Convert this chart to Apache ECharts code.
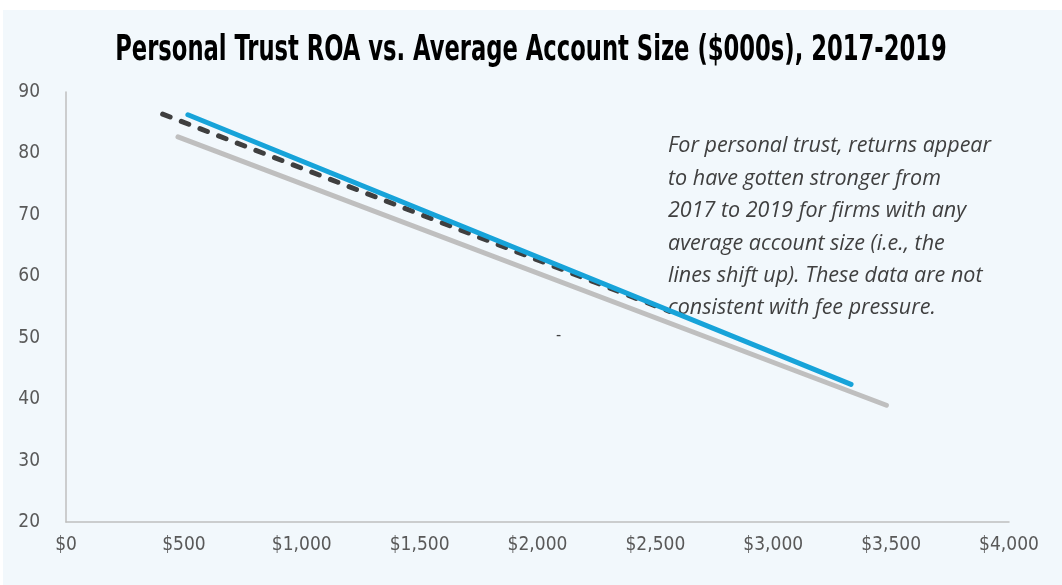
<!DOCTYPE html>
<html>
<head>
<meta charset="utf-8">
<script src="https://cdn.jsdelivr.net/npm/echarts@6/dist/echarts.min.js"></script>
<style>
  html, body { margin: 0; padding: 0; background: #ffffff; }
  #chart { width: 1062px; height: 585px; }
</style>
</head>
<body>
<div id="chart"></div>
<script>
// account size ($000s) and ROA endpoints of each fitted line
const year2017 = [[475, 82.7], [3480, 39.0]]
const year2018 = [[410, 86.4], [2560, 54.3]]
const year2019 = [[517, 86.3], [3330, 42.4]]

const yTicks = [20, 30, 40, 50, 60, 70, 80, 90]
const xTicks = [0, 500, 1000, 1500, 2000, 2500, 3000, 3500, 4000]

const titleText = 'Personal Trust ROA vs. Average Account Size ($000s), 2017-2019'

const note = [
  'For personal trust, returns appear',
  'to have gotten stronger from',
  '2017 to 2019 for firms with any',
  'average account size (i.e., the',
  'lines shift up). These data are not',
  'consistent with fee pressure.',
]

const labelFont = '"DejaVu Sans Condensed", "Open Sans", sans-serif'

const chart = echarts.init(document.getElementById('chart'))

chart.setOption({
  animation: false,
  backgroundColor: '#ffffff',
  graphic: [
    {
      type: 'rect',
      z: -10,
      silent: true,
      shape: { x: 3, y: 10, width: 1062, height: 580 },
      style: { fill: '#f2f8fc' },
    },
    {
      // title drawn narrow to mimic the condensed face of the original
      type: 'text',
      x: 531,
      y: 51,
      scaleX: 0.7,
      style: {
        text: titleText,
        align: 'center',
        verticalAlign: 'middle',
        fontFamily: labelFont,
        fontWeight: 'bold',
        fontSize: 36,
        fill: '#000000',
      },
    },
    {
      type: 'text',
      left: 668,
      top: 130,
      style: {
        text: note.join('\n'),
        fontFamily: '"Open Sans", "Noto Sans", sans-serif',
        fontStyle: 'italic',
        fontSize: 21.5,
        lineHeight: 32.4,
        fill: '#404040',
      },
    },
    {
      type: 'text',
      left: 556,
      top: 328,
      style: { text: '-', fontSize: 16, fill: '#404040', fontFamily: labelFont },
    },
  ],
  grid: { left: 66, right: 53, top: 92, bottom: 63 },
  xAxis: {
    type: 'value',
    min: xTicks[0],
    max: xTicks[xTicks.length - 1],
    interval: 500,
    axisLine: { show: true, lineStyle: { color: '#bfbfbf', width: 1.5 } },
    axisTick: { show: false },
    splitLine: { show: false },
    axisLabel: {
      margin: 14,
      fontFamily: labelFont,
      fontSize: 19,
      color: '#595959',
      formatter: v => '$' + v.toLocaleString('en-US'),
    },
  },
  yAxis: {
    type: 'value',
    min: yTicks[0],
    max: yTicks[yTicks.length - 1],
    interval: 10,
    axisLine: { show: true, lineStyle: { color: '#bfbfbf', width: 1.5 } },
    axisTick: { show: false },
    splitLine: { show: false },
    axisLabel: {
      margin: 26,
      fontFamily: labelFont,
      fontSize: 19,
      color: '#595959',
    },
  },
  series: [
    {
      name: '2017',
      type: 'line',
      data: year2017,
      symbol: 'none',
      lineStyle: { color: '#bfbfbf', width: 5, cap: 'round' },
    },
    {
      name: '2018',
      type: 'line',
      data: year2018,
      symbol: 'none',
      lineStyle: { color: '#3f3f3f', width: 5, cap: 'round', type: [8, 12] },
    },
    {
      name: '2019',
      type: 'line',
      data: year2019,
      symbol: 'none',
      lineStyle: { color: '#17a3d9', width: 5, cap: 'round' },
    },
  ],
})
</script>
</body>
</html>
